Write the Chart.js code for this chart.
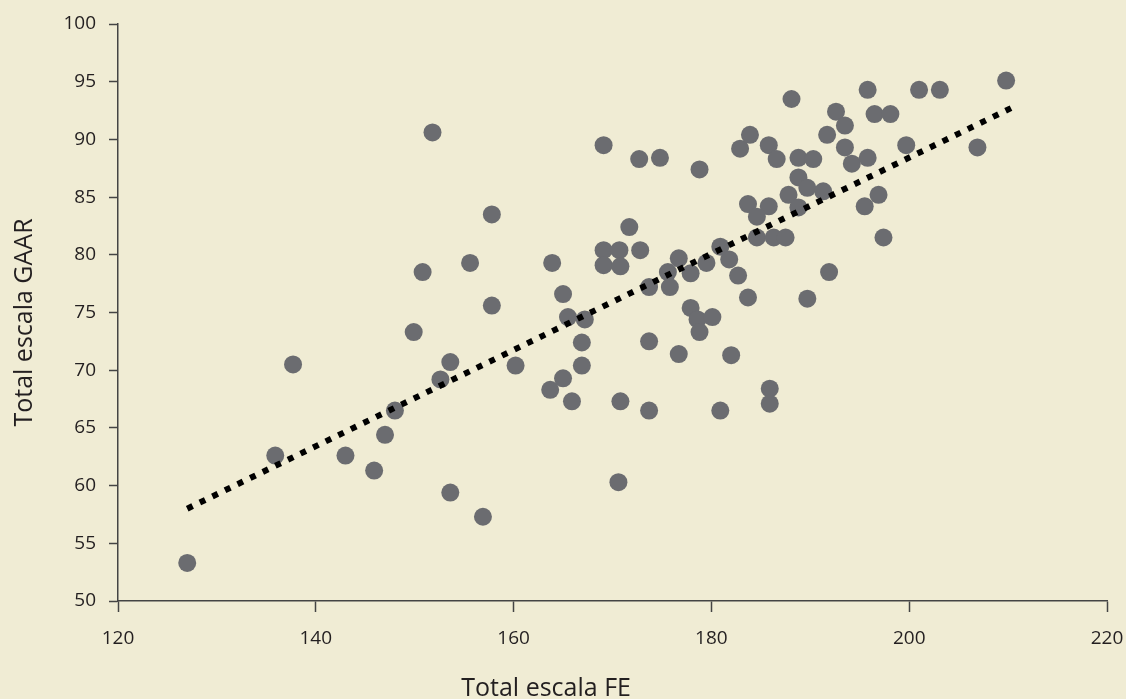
<!DOCTYPE html>
<html>
<head>
<meta charset="utf-8">
<script src="https://cdn.jsdelivr.net/npm/chart.js@4.4.1/dist/chart.umd.min.js"></script>
<style>
    html, body { margin: 0; padding: 0; background: #f0ecd4; }
    #wrap { width: 1126px; height: 699px; position: relative; }
</style>
</head>
<body>
<div id="wrap"><canvas id="scatterChart"></canvas></div>
<script>
// Total escala FE (x) and Total escala GAAR (y)
const feValues = [
    127.0, 135.9, 137.7, 143.0, 145.9, 147.0, 148.0, 149.9, 150.8, 151.8,
    152.6, 153.6, 153.6, 155.6, 157.8, 157.8, 156.9, 160.2, 163.7, 163.9,
    165.0, 165.0, 165.5, 165.9, 166.9, 166.9, 167.2, 169.1, 172.7, 174.8,
    178.8, 171.7, 169.1, 170.7, 169.1, 170.8, 172.8, 173.7, 173.7, 175.6,
    175.8, 176.7, 177.9, 179.5, 180.9, 181.8, 182.7, 183.7, 177.9, 178.6,
    180.1, 178.8, 182.9, 183.9, 185.8, 186.6, 183.7, 185.8, 184.6, 184.6,
    186.3, 187.5, 188.1, 195.8, 201.0, 203.1, 209.8, 192.6, 193.5, 196.5,
    198.1, 188.8, 190.3, 191.7, 193.5, 194.2, 195.8, 199.7, 206.9, 188.8,
    189.7, 191.3, 187.8, 188.8, 196.9, 195.5, 197.4, 191.9, 189.7, 170.8,
    176.7, 182.0, 173.7, 180.9, 185.9, 185.9, 170.6
];
const gaarValues = [
    53.3, 62.6, 70.5, 62.6, 61.3, 64.4, 66.5, 73.3, 78.5, 90.6,
    69.2, 70.7, 59.4, 79.3, 83.5, 75.6, 57.3, 70.4, 68.3, 79.3,
    69.3, 76.6, 74.6, 67.3, 72.4, 70.4, 74.4, 89.5, 88.3, 88.4,
    87.4, 82.4, 80.4, 80.4, 79.1, 79.0, 80.4, 77.2, 72.5, 78.5,
    77.2, 79.7, 78.4, 79.3, 80.7, 79.6, 78.2, 76.3, 75.4, 74.4,
    74.6, 73.3, 89.2, 90.4, 89.5, 88.3, 84.4, 84.2, 83.3, 81.5,
    81.5, 81.5, 93.5, 94.3, 94.3, 94.3, 95.1, 92.4, 91.2, 92.2,
    92.2, 88.4, 88.3, 90.4, 89.3, 87.9, 88.4, 89.5, 89.3, 86.7,
    85.8, 85.5, 85.2, 84.1, 85.2, 84.2, 81.5, 78.5, 76.2, 67.3,
    71.4, 71.3, 66.5, 66.5, 68.4, 67.1, 60.3
];

// trend line end points
const trendX = [127.0, 210.5];
const trendY = [58.0, 92.8];

const xTicks = [120, 140, 160, 180, 200, 220];
const yTicks = [50, 55, 60, 65, 70, 75, 80, 85, 90, 95, 100];

const xTitle = 'Total escala FE';
const yTitle = 'Total escala GAAR';

const points = feValues.map((v, i) => ({ x: v, y: gaarValues[i] }));
const trend = trendX.map((v, i) => ({ x: v, y: trendY[i] }));

const axisColor = '#444444';
const textColor = '#231f20';
const fontFamily = '"Open Sans", "Noto Sans", sans-serif';

// axis titles drawn by hand so they sit where the original has them
const axisTitles = {
    id: 'axisTitles',
    afterDraw(chart) {
        const ctx = chart.ctx;
        const area = chart.chartArea;
        ctx.save();
        ctx.fillStyle = textColor;
        ctx.font = '25px ' + fontFamily;
        ctx.textAlign = 'center';
        ctx.textBaseline = 'alphabetic';
        ctx.fillText(xTitle, chart.width * 0.485, chart.height - 3);
        ctx.translate(25, (area.top + area.bottom) / 2 + 10);
        ctx.rotate(-Math.PI / 2);
        ctx.textBaseline = 'middle';
        ctx.fillText(yTitle, 0, 0);
        ctx.restore();
    }
};

const ctx = document.getElementById('scatterChart').getContext('2d');
new Chart(ctx, {
    type: 'scatter',
    data: {
        datasets: [
            {
                type: 'line',
                data: trend,
                borderColor: '#000000',
                borderWidth: 6,
                borderDash: [6, 8],
                borderCapStyle: 'butt',
                pointRadius: 0,
                fill: false,
                order: 0
            },
            {
                data: points,
                backgroundColor: '#6b6c70',
                borderWidth: 0,
                pointRadius: 9,
                pointHoverRadius: 9,
                order: 1
            }
        ]
    },
    options: {
        responsive: true,
        maintainAspectRatio: false,
        animation: false,
        layout: { padding: { top: 24, right: 19, left: 0, bottom: 0 } },
        plugins: {
            legend: { display: false },
            tooltip: { enabled: false }
        },
        scales: {
            x: {
                type: 'linear',
                min: 120,
                max: 220,
                afterBuildTicks: (scale) => { scale.ticks = xTicks.map(v => ({ value: v })); },
                afterFit: (scale) => {
                    scale.height = 98;
                    scale.paddingLeft = 0;
                    scale.paddingRight = 0;
                },
                border: { display: true, color: axisColor, width: 1.5 },
                grid: { drawOnChartArea: false, drawTicks: true, tickLength: 11, tickColor: axisColor, tickWidth: 1.5 },
                ticks: { color: textColor, font: { family: fontFamily, size: 19 }, padding: 15, maxRotation: 0 }
            },
            y: {
                type: 'linear',
                min: 50,
                max: 100,
                afterBuildTicks: (scale) => { scale.ticks = yTicks.map(v => ({ value: v })); },
                afterFit: (scale) => {
                    scale.width = 118;
                    scale.paddingTop = 0;
                    scale.paddingBottom = 0;
                },
                border: { display: true, color: axisColor, width: 1.5 },
                grid: { drawOnChartArea: false, drawTicks: true, tickLength: 9, tickColor: axisColor, tickWidth: 1.5 },
                ticks: { color: textColor, font: { family: fontFamily, size: 19 }, padding: 13 }
            }
        }
    },
    plugins: [axisTitles]
});
</script>
</body>
</html>
